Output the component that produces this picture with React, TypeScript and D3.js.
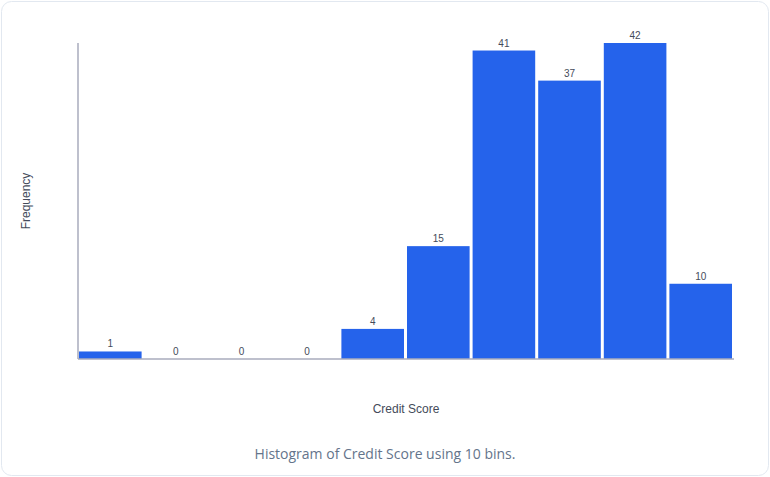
import React from "react";
import * as d3 from "d3";

const binLabels = ["1", "2", "3", "4", "5", "6", "7", "8", "9", "10"];
const counts = [1, 0, 0, 0, 4, 15, 41, 37, 42, 10];
const xTitle = "Credit Score";
const yTitle = "Frequency";
const caption = "Histogram of Credit Score using 10 bins.";

const W = 770;
const H = 477;
const m = { left: 78, right: 36, top: 43, bottom: 118 };

export default function App() {
  const x = d3.scaleLinear().domain([0, counts.length]).range([m.left, W - m.right]);
  const y = d3.scaleLinear().domain([0, d3.max(counts) as number]).range([H - m.bottom, m.top]);
  const y0 = y(0);
  return (
    <div style={{ position: "absolute", left: 0, top: 0 }}>
      <svg width={W} height={H} style={{ display: "block" }}>
        <rect x={1.5} y={1.5} width={W - 3} height={H - 3} rx={10} ry={10} fill="#fff" stroke="#e2e8f0" strokeWidth={1} />
        {counts.map((c, i) => (
          <g key={binLabels[i]}>
            {c > 0 && (
              <rect x={x(i) + 1} y={y(c)} width={x(i + 1) - x(i) - 3} height={y0 - y(c)} fill="#2563eb" />
            )}
            <text
              x={(x(i) + x(i + 1)) / 2 - 0.5}
              y={y(c) - 4}
              textAnchor="middle"
              fontFamily="'Liberation Sans', Arial, sans-serif"
              fontSize={10}
              fill="#444b5a"
            >
              {c}
            </text>
          </g>
        ))}
        <line x1={m.left} x2={m.left} y1={m.top} y2={y0} stroke="#a9abbd" strokeWidth={1.5} />
        <line x1={m.left} x2={W - m.right} y1={y0} y2={y0} stroke="#a9abbd" strokeWidth={1.5} />
        <text
          transform={`translate(30,${(m.top + y0) / 2}) rotate(-90)`}
          textAnchor="middle"
          fontFamily="'Liberation Sans', Arial, sans-serif"
          fontSize={12}
          fill="#444b5a"
        >
          {yTitle}
        </text>
        <text
          x={(m.left + W - m.right) / 2}
          y={413}
          textAnchor="middle"
          fontFamily="'Liberation Sans', Arial, sans-serif"
          fontSize={12}
          fill="#444b5a"
        >
          {xTitle}
        </text>
        <text
          x={385}
          y={459}
          textAnchor="middle"
          fontFamily="'Open Sans', sans-serif"
          fontSize={14}
          fill="#64748b"
        >
          {caption}
        </text>
      </svg>
    </div>
  );
}
